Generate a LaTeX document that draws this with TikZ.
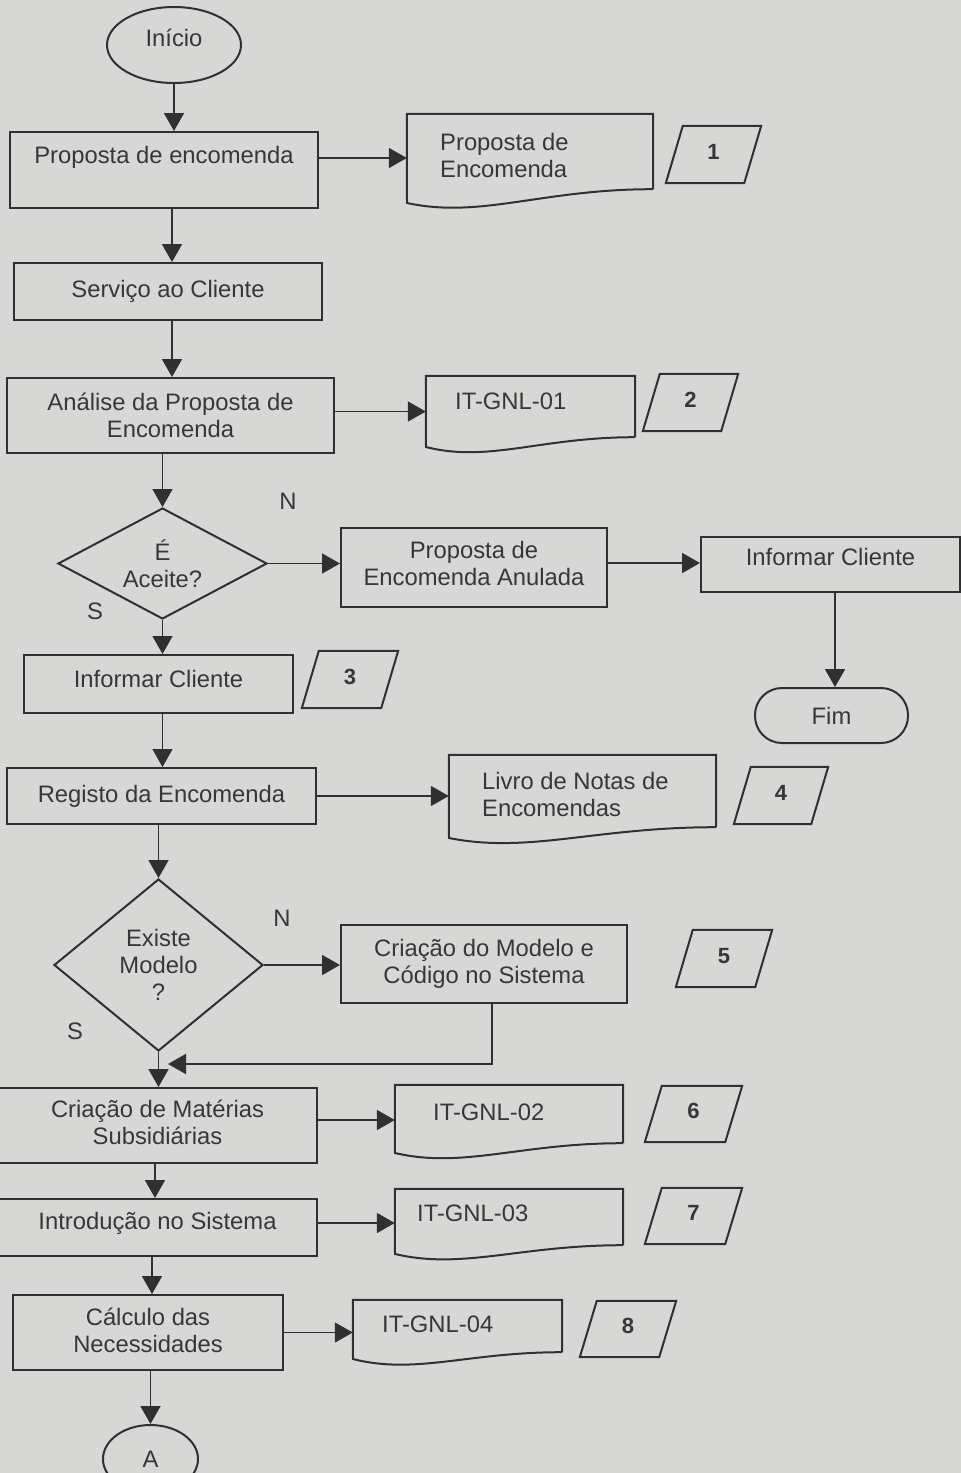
\documentclass[tikz,border=0pt]{standalone}
\usepackage{fontspec}
\setmainfont{Liberation Sans}
\usetikzlibrary{arrows.meta,shapes.geometric,fit,calc}

\definecolor{paper}{RGB}{215,215,213}
\definecolor{ink}{RGB}{48,48,48}
\definecolor{txtc}{RGB}{55,55,55}

\tikzset{
  every node/.style={font=\fontsize{23.8}{27}\selectfont, text=txtc},
  inkline/.style={draw=ink, line width=2pt},
  box/.style={inkline, rectangle, inner sep=0pt, align=center},
  dia/.style={inkline, diamond, inner sep=0pt, align=center},
  oval/.style={inkline, ellipse, inner sep=0pt},
  stadium/.style={inkline, rectangle, rounded corners=27pt, inner sep=0pt},
  docframe/.style={rectangle, inner sep=0pt, draw=none},
  doctext/.style={anchor=west, align=left, inner sep=0pt},
  tag/.style={rectangle, inner sep=0pt, text depth=6pt, font=\fontsize{22}{26}\selectfont\bfseries},
  yn/.style={inner sep=0pt},
  arr/.style={draw=ink, line width=1.8pt, -{Triangle[length=18pt,width=20pt]}},
}

% document symbol: flat top, wavy bottom; text set from the left
% #1 name, #2 left, #3 top, #4 right, #5 bottom at right, #6 bottom at left,
% #7 text x, #8 text y, #9 text
\newcommand\docshape[9]{%
  \node[docframe, fit={(#2,#3) (#4,#5)}] (#1) {};
  \draw[inkline] (#1.south east) -- (#1.north east) -- (#1.north west) -- (#2,#6)
    .. controls ({#2+0.3*(#4-#2)},{#6+16}) and ({#2+0.55*(#4-#2)},{#5}) .. (#1.south east);
  \node[doctext] (#1t) at (#7,#8) {#9};
}

% slanted reference tag (parallelogram)
% #1 name, #2 xmin, #3 ymin, #4 xmax, #5 ymax, #6 number
\newcommand\tagshape[6]{%
  \node[tag, minimum width={(#4-#2)*1pt}, minimum height={(#5-#3)*1pt}]
    (#1) at ({(#2+#4)/2},{(#3+#5)/2}) {#6};
  \draw[inkline] (#1.south west) -- ([xshift=17pt]#1.north west) -- (#1.north east)
    -- ([xshift=-17pt]#1.south east) -- cycle;
}

\begin{document}
\begin{tikzpicture}[x=1pt,y=-1pt]
\useasboundingbox (0,0) rectangle (961,1473);
\clip (0,0) rectangle (961,1473);
\fill[paper] (0,0) rectangle (961,1473);

% main column
\node[oval, minimum width=134pt, minimum height=76pt, text depth=14pt] (start) at (174,45) {Início};
\node[box, minimum width=308pt, minimum height=76pt, text depth=31pt] (b1) at (164,170) {Proposta de encomenda};
\node[box, minimum width=308pt, minimum height=57pt] (b2) at (168,291.5) {Serviço ao Cliente};
\node[box, minimum width=327pt, minimum height=75pt] (b3) at (170.5,415.5) {Análise da Proposta de\\Encomenda};
\node[dia, minimum width=209pt, minimum height=111pt, aspect=1.88] (q1) at (162.5,563.5) {É\\Aceite?};
\node[box, minimum width=269pt, minimum height=58pt, text depth=11pt] (b4) at (158.5,684) {Informar Cliente};
\node[box, minimum width=309pt, minimum height=56pt] (b5) at (161.5,796) {Registo da Encomenda};
\node[dia, minimum width=209pt, minimum height=172pt, aspect=1.215] (q2) at (158.5,965) {Existe\\Modelo\\?};
\node[box, minimum width=319pt, minimum height=75pt, text depth=7pt] (b6) at (157.5,1125.5) {Criação de Matérias\\Subsidiárias};
\node[box, minimum width=319pt, minimum height=57pt, text depth=13pt] (b7) at (157.5,1227.5) {Introdução no Sistema};
\node[box, minimum width=270pt, minimum height=75pt, text depth=5pt] (b8) at (148,1332.5) {Cálculo das\\Necessidades};
\node[oval, minimum width=95pt, minimum height=68pt] (conA) at (150.5,1459) {A};

% rejected branch
\node[box, minimum width=266pt, minimum height=79pt, text depth=9pt] (anul) at (474,567.5) {Proposta de\\Encomenda Anulada};
\node[box, minimum width=259pt, minimum height=55pt, text depth=16pt] (infR) at (830.5,564.5) {Informar Cliente};
\node[stadium, minimum width=153pt, minimum height=55pt] (fim) at (831.5,715.5) {Fim};

% model creation
\node[box, minimum width=286pt, minimum height=78pt] (m5) at (484,964) {Criação do Modelo e\\Código no Sistema};

% records
\docshape{d1}{407}{114}{653}{189}{203}{440}{155.5}{Proposta de\\Encomenda}
\docshape{d2}{426}{376}{635}{437}{447}{455}{401}{IT-GNL-01}
\docshape{d4}{449}{755}{716}{827}{838}{482}{794}{Livro de Notas de\\Encomendas}
\docshape{d6}{395}{1085}{623}{1143}{1153}{433}{1112}{IT-GNL-02}
\docshape{d7}{395}{1189}{623}{1245}{1254}{417}{1213}{IT-GNL-03}
\docshape{d8}{353}{1300}{562}{1352}{1359}{382}{1324}{IT-GNL-04}

% reference tags
\tagshape{p1}{666}{126}{761}{183}{1}
\tagshape{p2}{643}{374}{738}{431}{2}
\tagshape{p3}{302}{651}{398}{708}{3}
\tagshape{p4}{734}{767}{828}{824}{4}
\tagshape{p5}{676}{930}{772}{987}{5}
\tagshape{p6}{645}{1086}{742}{1142}{6}
\tagshape{p7}{645}{1188}{742}{1244}{7}
\tagshape{p8}{580}{1301}{676}{1357}{8}

% decision labels
\node[yn] (n1) at (288,501) {N};
\node[yn] (s1) at (95,611) {S};
\node[yn] (n2) at (282,918) {N};
\node[yn] (s2) at (75,1031) {S};

% vertical flow
\draw[arr] (start.south) -- (start.south |- b1.north);
\draw[arr] ([xshift=8pt]b1.south) -- ([xshift=8pt]b1.south |- b2.north);
\draw[arr] ([xshift=4pt]b2.south) -- ([xshift=4pt]b2.south |- b3.north);
\draw[arr] (q1.north |- b3.south) -- (q1.north);
\draw[arr] (q1.south) -- (q1.south |- b4.north);
\draw[arr] ([xshift=4pt]b4.south) -- ([xshift=4pt]b4.south |- b5.north);
\draw[arr] (q2.north |- b5.south) -- (q2.north);
\draw[arr] (q2.south) -- (q2.south |- b6.north);
\draw[arr] ([xshift=-2.5pt]b6.south) -- ([xshift=-2.5pt]b6.south |- b7.north);
\draw[arr] ([xshift=-5.5pt]b7.south) -- ([xshift=-5.5pt]b7.south |- b8.north);
\draw[arr] (conA.north |- b8.south) -- (conA.north);

% side flows
\draw[arr] ([yshift=12pt]b1.east) -- ([yshift=12pt]b1.east -| d1.west);
\draw[arr] ([yshift=4pt]b3.east) -- ([yshift=4pt]b3.east -| d2.west);
\draw[arr] (q1.east) -- (q1.east -| anul.west);
\draw[arr] ([yshift=4.5pt]anul.east) -- ([yshift=4.5pt]anul.east -| infR.west);
\draw[arr] ([xshift=4.5pt]infR.south) -- ([xshift=4.5pt]infR.south |- fim.north);
\draw[arr] (b5.east) -- (b5.east -| d4.west);
\draw[arr] (q2.east) -- (q2.east -| m5.west);
\coordinate (merge) at (168,1064);
\draw[arr] ([xshift=8pt]m5.south) |- (merge);
\draw[arr] ([yshift=5.5pt]b6.east) -- ([yshift=5.5pt]b6.east -| d6.west);
\draw[arr] ([yshift=4.5pt]b7.east) -- ([yshift=4.5pt]b7.east -| d7.west);
\draw[arr] (b8.east) -- (b8.east -| d8.west);
\end{tikzpicture}
\end{document}
